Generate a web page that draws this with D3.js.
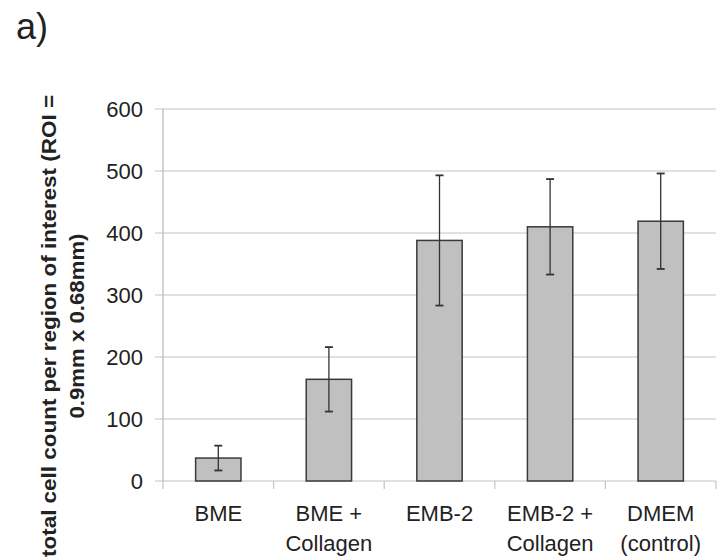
<!DOCTYPE html>
<html>
<head>
<meta charset="utf-8">
<script src="https://cdn.jsdelivr.net/npm/d3@7"></script>
<style>
  body { margin: 0; background: #fff; }
  svg { font-family: "Liberation Sans", Arial, sans-serif; }
</style>
</head>
<body>
<svg width="718" height="559"></svg>
<script>
// data
const categories = [["BME"], ["BME +", "Collagen"], ["EMB-2"], ["EMB-2 +", "Collagen"], ["DMEM", "(control)"]];
const counts = [37, 164, 388, 410, 419];
const errors = [20, 52, 105, 77, 77];
const yTicks = [0, 100, 200, 300, 400, 500, 600];

const svg = d3.select("svg"),
      margin = {top: 109, right: 2, bottom: 78, left: 163},
      width = 718 - margin.left - margin.right,
      height = 559 - margin.top - margin.bottom,
      g = svg.append("g").attr("transform", `translate(${margin.left},${margin.top})`);

const keys = categories.map(c => c.join(" "));
const x = d3.scaleBand().domain(keys).range([0, width]).paddingInner(0.59).paddingOuter(0.295);
const y = d3.scaleLinear().domain([0, 600]).range([height, 0]);

// gridlines + left ticks
g.selectAll(".grid")
  .data(yTicks)
  .enter().append("line")
  .attr("x1", -8).attr("x2", width)
  .attr("y1", d => y(d)).attr("y2", d => y(d))
  .attr("stroke", "#c4c4c4").attr("stroke-width", 1.2);

// y axis labels
g.selectAll(".ylab")
  .data(yTicks)
  .enter().append("text")
  .attr("x", -20).attr("y", d => y(d)).attr("dy", "0.36em")
  .attr("text-anchor", "end")
  .attr("fill", "#222")
  .style("font-size", "22px")
  .text(d => d);

// axis line
g.append("line").attr("x1", 0).attr("x2", 0).attr("y1", 0).attr("y2", height)
  .attr("stroke", "#b8b8b8").attr("stroke-width", 1.2);

// x ticks at category boundaries
const step = x.step();
g.selectAll(".xtick")
  .data(d3.range(0, keys.length + 1))
  .enter().append("line")
  .attr("x1", i => i * step).attr("x2", i => i * step)
  .attr("y1", height).attr("y2", height + 8)
  .attr("stroke", "#c4c4c4").attr("stroke-width", 1.2);

// bars
const data = keys.map((k, i) => ({key: k, lines: categories[i], v: counts[i], e: errors[i]}));
g.selectAll(".bar")
  .data(data)
  .enter().append("rect")
  .attr("x", d => x(d.key)).attr("y", d => y(d.v))
  .attr("width", x.bandwidth()).attr("height", d => y(0) - y(d.v))
  .attr("fill", "#c0c0c0").attr("stroke", "#3a3a3a").attr("stroke-width", 1.5);

// error bars
const cx = d => x(d.key) + x.bandwidth() / 2;
g.selectAll(".err")
  .data(data)
  .enter().append("line")
  .attr("x1", cx).attr("x2", cx)
  .attr("y1", d => y(d.v + d.e)).attr("y2", d => y(d.v - d.e))
  .attr("stroke", "#333").attr("stroke-width", 1.3);
["top", "bot"].forEach(side => {
  g.selectAll(".cap" + side)
    .data(data)
    .enter().append("line")
    .attr("x1", d => cx(d) - 4).attr("x2", d => cx(d) + 4)
    .attr("y1", d => y(side === "top" ? d.v + d.e : d.v - d.e))
    .attr("y2", d => y(side === "top" ? d.v + d.e : d.v - d.e))
    .attr("stroke", "#333").attr("stroke-width", 1.8);
});

// category labels
const xl = g.selectAll(".xlab")
  .data(data)
  .enter().append("text")
  .attr("text-anchor", "middle")
  .attr("fill", "#222")
  .style("font-size", "22px");
xl.each(function(d) {
  d3.select(this).selectAll("tspan")
    .data(d.lines)
    .enter().append("tspan")
    .attr("x", cx(d))
    .attr("y", (t, i) => height + 40 + i * 30)
    .text(t => t);
});

// y axis title
const yt = svg.append("text")
  .attr("transform", "translate(56,326) rotate(-90)")
  .attr("text-anchor", "middle")
  .attr("fill", "#222")
  .style("font", "bold 20px 'Liberation Sans', Arial, sans-serif");
yt.append("tspan").attr("x", 0).attr("y", 0)
  .attr("textLength", 462).attr("lengthAdjust", "spacingAndGlyphs")
  .text("total cell count per region of interest (ROI =");
yt.append("tspan").attr("x", 0).attr("y", 28)
  .attr("textLength", 185).attr("lengthAdjust", "spacingAndGlyphs")
  .text("0.9mm x 0.68mm)");

// panel label
svg.append("text")
  .attr("x", 16).attr("y", 39)
  .attr("fill", "#222")
  .style("font-size", "36px")
  .text("a)");
</script>
</body>
</html>
